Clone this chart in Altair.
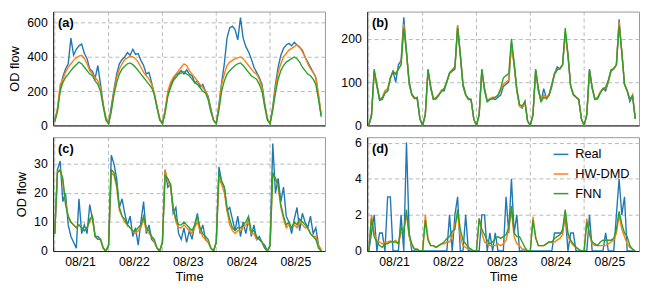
import altair as alt
import pandas as pd

DATES = ["08/21", "08/22", "08/23", "08/24", "08/25"]
SERIES = ["Real", "HW-DMD", "FNN"]
COLORS = ["#1f77b4", "#ff7f0e", "#2ca02c"]
PER_DAY = 20

# ---------------- panel (a) ----------------
a_real = [30, 90, 210, 285, 330, 360, 510, 410, 445, 465, 475, 420, 390, 330, 315, 275, 350, 240, 125, 40,
          10, 110, 210, 300, 360, 385, 400, 425, 410, 445, 415, 420, 380, 350, 300, 310, 250, 180, 110, 40,
          10, 90, 180, 230, 270, 295, 305, 320, 300, 325, 300, 290, 250, 260, 225, 240, 200, 170, 100, 30,
          10, 120, 250, 360, 510, 570, 580, 560, 500, 630, 510, 460, 430, 390, 340, 310, 280, 240, 130, 40,
          10, 110, 240, 340, 410, 450, 470, 480, 465, 485, 470, 455, 440, 400, 370, 340, 310, 280, 170, 60]
a_hw = [30, 100, 240, 270, 310, 340, 360, 380, 395, 405, 410, 390, 360, 320, 300, 280, 260, 220, 120, 50,
        10, 90, 200, 280, 330, 360, 385, 395, 405, 400, 390, 370, 340, 310, 290, 270, 240, 190, 110, 40,
        10, 90, 200, 250, 280, 300, 320, 340, 360, 350, 320, 300, 280, 260, 240, 220, 200, 160, 90, 30,
        10, 110, 240, 300, 350, 370, 380, 390, 395, 400, 390, 370, 350, 330, 310, 300, 270, 220, 120, 40,
        10, 100, 220, 310, 360, 400, 420, 440, 450, 460, 470, 460, 430, 400, 360, 330, 310, 280, 180, 60]
a_fnn = [20, 80, 200, 250, 280, 300, 320, 340, 355, 370, 360, 340, 320, 300, 290, 260, 240, 200, 110, 30,
         10, 80, 180, 250, 300, 330, 345, 360, 365, 355, 340, 320, 300, 280, 260, 240, 220, 180, 100, 30,
         10, 70, 170, 220, 260, 280, 300, 305, 315, 300, 290, 270, 250, 240, 220, 200, 190, 150, 80, 30,
         10, 90, 200, 260, 300, 320, 335, 350, 360, 365, 350, 330, 310, 290, 280, 270, 240, 200, 110, 30,
         10, 90, 190, 270, 320, 350, 370, 380, 390, 400, 390, 370, 340, 320, 300, 290, 270, 240, 150, 50]

# ---------------- panel (b) ----------------
b_real = [0, 20, 125, 90, 58, 60, 75, 80, 110, 125, 100, 140, 150, 250, 170, 95, 70, 62, 65, 15,
          0, 25, 128, 85, 60, 62, 70, 80, 80, 100, 120, 125, 130, 230, 160, 90, 70, 60, 60, 15,
          0, 25, 128, 80, 55, 60, 62, 60, 65, 70, 90, 95, 100, 190, 140, 80, 45, 40, 55, 10,
          0, 25, 128, 80, 55, 85, 62, 70, 90, 120, 135, 130, 140, 215, 160, 90, 70, 65, 60, 15,
          0, 25, 128, 85, 60, 62, 75, 85, 80, 100, 125, 130, 140, 245, 170, 95, 80, 55, 70, 15]
b_hw = [0, 25, 120, 95, 62, 65, 80, 85, 110, 125, 120, 130, 140, 235, 165, 100, 70, 65, 60, 15,
        0, 25, 125, 90, 62, 65, 72, 82, 85, 100, 120, 128, 135, 232, 165, 95, 70, 62, 60, 15,
        0, 25, 125, 85, 58, 62, 65, 65, 68, 80, 95, 100, 105, 185, 140, 80, 45, 42, 55, 10,
        0, 25, 125, 85, 58, 70, 65, 72, 95, 120, 130, 130, 140, 210, 165, 90, 72, 65, 60, 15,
        0, 25, 125, 88, 62, 65, 78, 85, 85, 102, 128, 130, 140, 240, 170, 95, 80, 60, 70, 15]
b_fnn = [0, 25, 130, 95, 60, 62, 75, 80, 108, 125, 118, 130, 140, 225, 170, 100, 72, 63, 62, 15,
         0, 25, 130, 90, 60, 62, 70, 78, 85, 102, 122, 128, 135, 225, 165, 95, 72, 62, 60, 15,
         0, 25, 130, 85, 55, 60, 62, 65, 70, 85, 110, 115, 120, 200, 145, 85, 48, 45, 55, 10,
         0, 25, 130, 85, 55, 65, 62, 70, 95, 118, 128, 132, 140, 225, 165, 92, 72, 65, 60, 15,
         0, 25, 130, 88, 60, 62, 75, 85, 88, 105, 128, 132, 140, 230, 170, 95, 80, 60, 68, 15]

# ---------------- panel (c) ----------------
c_real = [6, 28, 31, 17, 20, 9, 5, 3, 1, 18, 6, 9, 6, 16, 11, 5, 5, 4, 1, 0,
          2, 33, 30, 25, 15, 18, 13, 9, 12, 5, 8, 2, 10, 17, 6, 9, 4, 3, 1, 0,
          3, 28, 22, 23, 13, 15, 6, 4, 8, 3, 7, 4, 9, 13, 6, 9, 4, 3, 1, 0,
          3, 29, 24, 22, 14, 15, 11, 7, 12, 5, 10, 6, 11, 5, 9, 4, 5, 3, 2, 0,
          2, 37, 20, 25, 17, 22, 12, 10, 6, 11, 15, 7, 13, 10, 8, 12, 6, 8, 2, 0]
c_hw = [6, 27, 28, 24, 17, 12, 10, 9, 8, 9, 8, 7, 8, 10, 12, 5, 4, 4, 1, 0,
        2, 27, 26, 22, 14, 12, 10, 9, 8, 7, 6, 7, 8, 11, 7, 6, 5, 3, 1, 0,
        3, 28, 24, 22, 15, 10, 8, 8, 9, 8, 7, 6, 8, 10, 7, 5, 4, 3, 1, 0,
        3, 25, 23, 20, 14, 9, 7, 6, 7, 7, 8, 9, 10, 6, 6, 4, 4, 3, 1, 0,
        2, 26, 25, 22, 15, 11, 8, 9, 8, 9, 8, 10, 9, 8, 8, 6, 5, 5, 2, 0.5]
c_fnn = [6, 27, 28, 25, 16, 12, 10, 9, 8, 9, 8, 7, 8, 11, 12, 5, 4, 4, 1, 0,
         2, 28, 27, 23, 15, 12, 11, 9, 8, 7, 7, 8, 9, 12, 8, 7, 5, 4, 1, 0,
         3, 26, 25, 23, 15, 11, 9, 9, 10, 9, 8, 7, 9, 12, 8, 6, 5, 4, 1, 0,
         3, 27, 24, 22, 15, 11, 8, 7, 8, 8, 9, 10, 12, 7, 7, 5, 4, 3, 1, 0,
         2, 27, 25, 23, 16, 12, 9, 10, 8, 10, 9, 11, 10, 9, 8, 6, 5, 4, 1, 0]

# ---------------- panel (d) ----------------
d_real = [0, 1, 2, 0, 1, 1, 0, 3, 3, 0, 0, 0, 2, 0, 6, 1, 0, 0, 0, 0,
          0, 0, 0, 0, 0, 0, 0, 0, 0, 0, 2, 0, 2, 3, 0, 0, 2, 0, 0, 0,
          0, 0, 2, 2, 0, 1, 0, 1, 0, 0, 0, 3, 1, 4, 1, 2, 0, 0, 0, 0,
          0, 0, 0, 0, 0, 0, 0, 0, 0, 1, 1, 1, 1, 2, 0, 1, 1, 0, 0, 0,
          0, 0, 2, 0, 0, 0, 0, 0, 1, 0, 0, 0, 2, 4, 2, 3, 0, 0, 0, 0]
d_hw = [0, 2.0, 1.0, 0.6, 0.5, 0.4, 0.5, 0.5, 0.55, 0.5, 0.6, 0.4, 1.0, 1.2, 2.0, 0.8, 0.3, 0.1, 0.1, 0,
        0, 2.0, 0.7, 0.3, 0.3, 0.2, 0.3, 0.4, 0.4, 0.5, 0.5, 0.8, 1.5, 2.0, 0.8, 0.3, 0.2, 0.1, 0.1, 0,
        0, 1.8, 1.0, 0.5, 0.4, 0.3, 0.3, 0.3, 0.4, 0.3, 0.4, 0.6, 1.2, 2.2, 0.8, 0.4, 0.3, 0.1, 0.1, 0,
        0, 1.9, 0.8, 0.3, 0.3, 0.3, 0.4, 0.5, 0.5, 0.5, 0.6, 0.7, 0.9, 2.2, 0.8, 0.5, 0.3, 0.2, 0.1, 0,
        0, 1.8, 0.9, 0.4, 0.3, 0.3, 0.3, 0.3, 0.3, 0.4, 0.5, 0.6, 1.0, 2.0, 1.2, 0.8, 0.4, 0.2, 0.1, 0]
d_fnn = [0, 1.8, 0.8, 0.5, 0.3, 0.2, 0.4, 0.4, 0.5, 0.5, 0.5, 0.4, 1.3, 1.0, 2.3, 0.9, 0.4, 0.1, 0.1, 0,
         0, 1.7, 0.6, 0.3, 0.3, 0.2, 0.3, 0.4, 0.5, 0.7, 0.8, 1.1, 1.2, 2.3, 1.2, 0.6, 0.4, 0.2, 0.1, 0,
         0, 1.8, 1.2, 0.9, 0.6, 0.4, 0.5, 0.7, 0.8, 0.7, 0.8, 0.9, 1.3, 2.5, 1.0, 0.8, 0.8, 0.5, 0.2, 0,
         0, 1.7, 0.7, 0.3, 0.3, 0.3, 0.4, 0.5, 0.5, 0.7, 0.8, 0.9, 1.2, 2.3, 1.0, 0.6, 0.4, 0.2, 0.1, 0,
         0, 1.6, 1.0, 0.5, 0.4, 0.3, 0.5, 0.6, 0.6, 0.6, 0.6, 0.7, 1.2, 2.2, 1.5, 1.0, 0.8, 0.3, 0.1, 0]

FONT = "Liberation Sans"
XDOM = [-0.03, 5.02]
W, H = 277, 116


def frame(real, hw, fnn):
    rows = []
    for name, vals in zip(SERIES, [real, hw, fnn]):
        for i, v in enumerate(vals):
            d, k = divmod(i, PER_DAY)
            rows.append({"t": d + k / PER_DAY, "v": v, "series": name})
    return pd.DataFrame(rows)


day_bounds = pd.DataFrame({"t": list(range(len(DATES)))})


def panel(real, hw, fnn, ymax, yticks, tag, bottom, ytitle, legend):
    xscale = alt.Scale(domain=XDOM, nice=False, zero=False)
    if bottom:
        xaxis = alt.Axis(values=[i + 0.47 for i in range(len(DATES))],
                         labelExpr="'08/' + (21 + floor(datum.value))",
                         title="Time", grid=False, ticks=False, labelPadding=5, titlePadding=3)
    else:
        xaxis = alt.Axis(labels=False, ticks=False, grid=False, title=None)
    grid = alt.Chart(day_bounds).mark_rule(
        strokeDash=[4, 3], color="#b0b0b0", strokeWidth=0.9
    ).encode(x=alt.X("t:Q", scale=xscale, axis=xaxis))
    lines = alt.Chart(frame(real, hw, fnn)).mark_line(strokeWidth=1.4, clip=True).encode(
        x=alt.X("t:Q", scale=xscale, axis=xaxis),
        y=alt.Y("v:Q", scale=alt.Scale(domain=[0, ymax], nice=False),
                axis=alt.Axis(values=yticks, title=ytitle, grid=True, gridDash=[4, 3],
                              gridColor="#b0b0b0", gridWidth=0.9, ticks=False,
                              labelPadding=6, titlePadding=5)),
        color=alt.Color("series:N", scale=alt.Scale(domain=SERIES, range=COLORS),
                        sort=SERIES, legend=legend),
    )
    label = alt.Chart(pd.DataFrame({"s": [tag]})).mark_text(
        align="left", baseline="middle", fontWeight="bold", fontSize=13, font=FONT, color="#000"
    ).encode(text="s:N", x=alt.value(5), y=alt.value(12))
    return alt.layer(grid, lines, label).properties(width=W, height=H)


leg = alt.Legend(orient="top-right", title=None, symbolType="stroke", symbolSize=225,
                 symbolStrokeWidth=1.5, labelFontSize=13, labelFont=FONT, rowPadding=4,
                 offset=9, labelOffset=6, padding=0)

pa = panel(a_real, a_hw, a_fnn, 665, [0, 200, 400, 600], "(a)", False, "OD flow", None)
pb = panel(b_real, b_hw, b_fnn, 263, [0, 100, 200], "(b)", False, None, None)
pc = panel(c_real, c_hw, c_fnn, 39.2, [0, 10, 20, 30], "(c)", True, "OD flow", None)
pd_ = panel(d_real, d_hw, d_fnn, 6.3, [0, 2, 4, 6], "(d)", True, None, leg)

chart = alt.concat(pa, pb, pc, pd_, columns=2, spacing={"row": 4, "column": 14}).resolve_scale(
    color="independent"
).resolve_legend(color="independent").properties(
    padding={"left": 0, "top": 0, "right": 0, "bottom": 0}
).configure_view(
    stroke="#999999", strokeWidth=1
).configure_axis(
    domainColor="#222222", domainWidth=1, labelFont=FONT, labelFontSize=12.5, labelColor="#000",
    titleFont=FONT, titleFontSize=13, titleFontWeight="normal", titleColor="#000"
).configure_legend(
    labelColor="#000"
)

chart.save("out.html", embed_options={"renderer": "svg", "actions": False})
